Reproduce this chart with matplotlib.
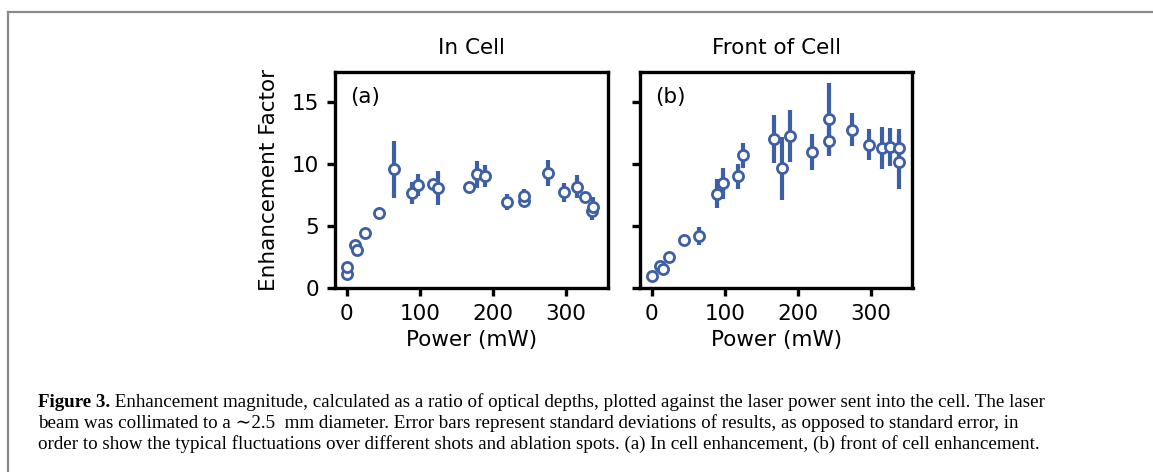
import matplotlib
matplotlib.use('Agg')
import matplotlib.pyplot as plt
from matplotlib.lines import Line2D

# 1) Data (read off the figure) ===
# (a) In Cell
power_a = [0, 1, 12, 14, 25, 44, 65, 90, 97, 118, 125, 167, 179, 190, 219, 243, 243,
           275, 297, 315, 326, 336, 337]
enh_a = [1.15, 1.7, 3.45, 3.1, 4.45, 6.05, 9.55, 7.65, 8.3, 8.35, 8.05, 8.15, 9.15, 9.0,
         6.9, 7.0, 7.4, 9.25, 7.7, 8.15, 7.35, 6.2, 6.55]
err_a = [0.1, 0.1, 0.15, 0.1, 0.15, 0.15, 2.3, 0.9, 0.85, 0.4, 1.4, 0.3, 1.1, 0.9,
         0.65, 0.5, 0.55, 1.05, 0.75, 0.92, 0.4, 0.7, 0.75]

# (b) Front of Cell
power_b = [1, 11, 15, 24, 44, 65, 89, 98, 118, 125, 168, 179, 190, 219, 243, 243,
           274, 297, 315, 326, 338, 338]
enh_b = [1.0, 1.75, 1.55, 2.5, 3.9, 4.2, 7.6, 8.45, 9.0, 10.7, 12.0, 9.65, 12.25,
         10.95, 11.85, 13.6, 12.75, 11.55, 11.3, 11.35, 11.3, 10.15]
err_b = [0.1, 0.1, 0.1, 0.15, 0.15, 0.7, 1.15, 1.25, 1.0, 1.0, 1.95, 2.55, 2.1,
         1.45, 1.0, 2.95, 1.35, 1.25, 1.7, 1.5, 1.5, 2.15]

titles = ['In Cell', 'Front of Cell']
panel_tags = ['(a)', '(b)']

caption_bold = 'Figure 3.'
caption_lines = [
    ' Enhancement magnitude, calculated as a ratio of optical depths, plotted against the laser power sent into the cell. The laser',
    'beam was collimated to a \u223c2.5  mm diameter. Error bars represent standard deviations of results, as opposed to standard error, in',
    'order to show the typical fluctuations over different shots and ablation spots. (a) In cell enhancement, (b) front of cell enhancement.',
]

blue = '#3d5fa6'

# 2) Figure ===
W, H = 1153, 472
fig = plt.figure(figsize=(W / 100, H / 100), dpi=100)

ax_a = fig.add_axes([335 / W, (H - 288) / H, 272.5 / W, 216 / H])
ax_b = fig.add_axes([640 / W, (H - 288) / H, 272.5 / W, 216 / H], sharey=ax_a)

datasets = [(power_a, enh_a, err_a), (power_b, enh_b, err_b)]
for ax, (p, e, s), title, tag in zip([ax_a, ax_b], datasets, titles, panel_tags):
    ax.errorbar(p, e, yerr=s, fmt='o', color=blue, ecolor=blue, elinewidth=3,
                capsize=0, markersize=7.3, markerfacecolor='white',
                markeredgecolor=blue, markeredgewidth=2.0)
    ax.set_xlim(-16, 357)
    ax.set_ylim(0, 17.4)
    ax.set_xticks([0, 100, 200, 300])
    ax.set_yticks([0, 5, 10, 15])
    ax.set_title(title, fontsize=15.5, pad=13)
    ax.set_xlabel('Power (mW)', fontsize=15.5, labelpad=4)
    ax.text(0.055, 0.885, tag, transform=ax.transAxes, fontsize=15.5, va='center')
    ax.tick_params(direction='out', length=6, width=2.4, labelsize=15.5, pad=5.5)
    for sp in ax.spines.values():
        sp.set_linewidth(2.4)

ax_a.set_ylabel('Enhancement Factor', fontsize=15.5, labelpad=9)
ax_b.tick_params(labelleft=False)

# 3) Frame and caption ===
fig.add_artist(Line2D([8 / W, 8 / W], [0, (H - 12) / H], color='#8a8a8a', lw=1.6))
fig.add_artist(Line2D([8 / W, 1], [(H - 12) / H, (H - 12) / H], color='#8a8a8a', lw=1.6))

cap_font = ['Liberation Serif', 'DejaVu Serif']
cap_size = 13.7
x0 = 38 / W
base = [(H - 407) / H, (H - 428) / H, (H - 449) / H]
t0 = fig.text(x0, base[0], caption_bold, family=cap_font, fontsize=cap_size,
              weight='bold', va='baseline')
fig.canvas.draw()
bb = t0.get_window_extent()
fig.text(bb.x1 / W, base[0], caption_lines[0], family=cap_font, fontsize=cap_size,
         va='baseline')
for line, y in zip(caption_lines[1:], base[1:]):
    fig.text(x0, y, line, family=cap_font, fontsize=cap_size, va='baseline')

fig.savefig('out.png', dpi=100)
